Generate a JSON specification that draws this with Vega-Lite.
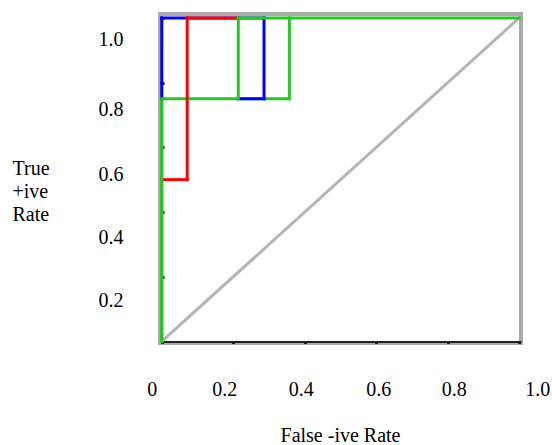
{
  "$schema": "https://vega.github.io/schema/vega-lite/v6.json",
  "autosize": {"type": "none"},
  "width": 361,
  "height": 329,
  "padding": {"left": 160, "top": 14, "right": 31, "bottom": 102},
  "background": "white",
  "config": {
    "view": {"stroke": "#aaaaaa", "strokeWidth": 4},
    "axis": {
      "labelFont": "'Liberation Serif', 'Times New Roman', 'DejaVu Serif', serif",
      "labelFontSize": 20,
      "labelColor": "#000000",
      "titleFont": "'Liberation Serif', 'Times New Roman', 'DejaVu Serif', serif",
      "titleFontSize": 20,
      "titleFontWeight": "normal",
      "titleColor": "#000000",
      "grid": false,
      "labelFlush": false,
      "labelOverlap": false
    }
  },
  "data": {
    "values": [
      {"c": "diag", "x": 0, "y": 0, "x2": 1, "y2": 1},
      {"c": "green", "x": 0, "y": 0, "x2": 0, "y2": 0.75},
      {"c": "green", "x": 0, "y": 0.75, "x2": 0.357, "y2": 0.75},
      {"c": "green", "x": 0.357, "y": 0.75, "x2": 0.357, "y2": 1},
      {"c": "blue", "x": 0, "y": 0.75, "x2": 0, "y2": 1},
      {"c": "blue", "x": 0, "y": 1, "x2": 0.286, "y2": 1},
      {"c": "blue", "x": 0.286, "y": 1, "x2": 0.286, "y2": 0.75},
      {"c": "blue", "x": 0.286, "y": 0.75, "x2": 0.214, "y2": 0.75},
      {"c": "red", "x": 0, "y": 0.5, "x2": 0.071, "y2": 0.5},
      {"c": "red", "x": 0.071, "y": 0.5, "x2": 0.071, "y2": 1},
      {"c": "red", "x": 0.071, "y": 1, "x2": 0.214, "y2": 1},
      {"c": "green", "x": 0.214, "y": 0.75, "x2": 0.214, "y2": 1},
      {"c": "green", "x": 0.214, "y": 1, "x2": 1, "y2": 1},
      {"c": "green", "x": 0, "y": 0, "x2": 0, "y2": 0.75}
    ]
  },
  "mark": {"type": "rule", "strokeWidth": 3, "strokeCap": "square"},
  "encoding": {
    "x": {
      "field": "x",
      "type": "quantitative",
      "scale": {"domain": [-0.005, 1.005], "nice": false, "zero": false},
      "axis": {
        "values": [0, 0.2, 0.4, 0.6, 0.8, 1],
        "labelExpr": "datum.value == 0 ? '0' : format(datum.value, '.1f')",
        "offset": -1.6,
        "domainColor": "#222222",
        "domainWidth": 2,
        "tickColor": "#111111",
        "tickWidth": 3,
        "tickSize": 2,
        "labelBaseline": "alphabetic",
        "labelPadding": 52,
        "labelOffset": {
          "condition": [
            {"test": "datum.value < 0.1", "value": -10},
            {"test": "datum.value < 0.3", "value": -9},
            {"test": "datum.value < 0.5", "value": -4},
            {"test": "datum.value < 0.7", "value": 2},
            {"test": "datum.value < 0.9", "value": 6}
          ],
          "value": 18
        },
        "title": "False -ive Rate",
        "titleX": 180,
        "titleY": 100,
        "titleBaseline": "alphabetic",
        "titleAnchor": null
      }
    },
    "x2": {"field": "x2"},
    "y": {
      "field": "y",
      "type": "quantitative",
      "scale": {"domain": [-0.005, 1.012], "nice": false, "zero": false},
      "axis": {
        "values": [0.2, 0.4, 0.6, 0.8, 1],
        "format": ".1f",
        "domain": false,
        "tickColor": "#111111",
        "tickWidth": 3,
        "tickSize": -4,
        "labelAlign": "right",
        "labelPadding": 41,
        "labelOffset": {
          "condition": [
            {"test": "datum.value > 0.9", "value": 22},
            {"test": "datum.value > 0.5", "value": 27},
            {"test": "datum.value > 0.3", "value": 26}
          ],
          "value": 24
        },
        "title": ["True", "+ive", "Rate"],
        "titleAngle": 0,
        "titleAlign": "left",
        "titleBaseline": "alphabetic",
        "titleLineHeight": 23,
        "titleX": -148,
        "titleY": 160.5,
        "titleAnchor": null
      }
    },
    "y2": {"field": "y2"},
    "color": {
      "field": "c",
      "type": "nominal",
      "scale": {"domain": ["diag", "green", "blue", "red"], "range": ["#b4b4b4", "#22c922", "#0000ff", "#ff0000"]},
      "legend": null
    }
  }
}
